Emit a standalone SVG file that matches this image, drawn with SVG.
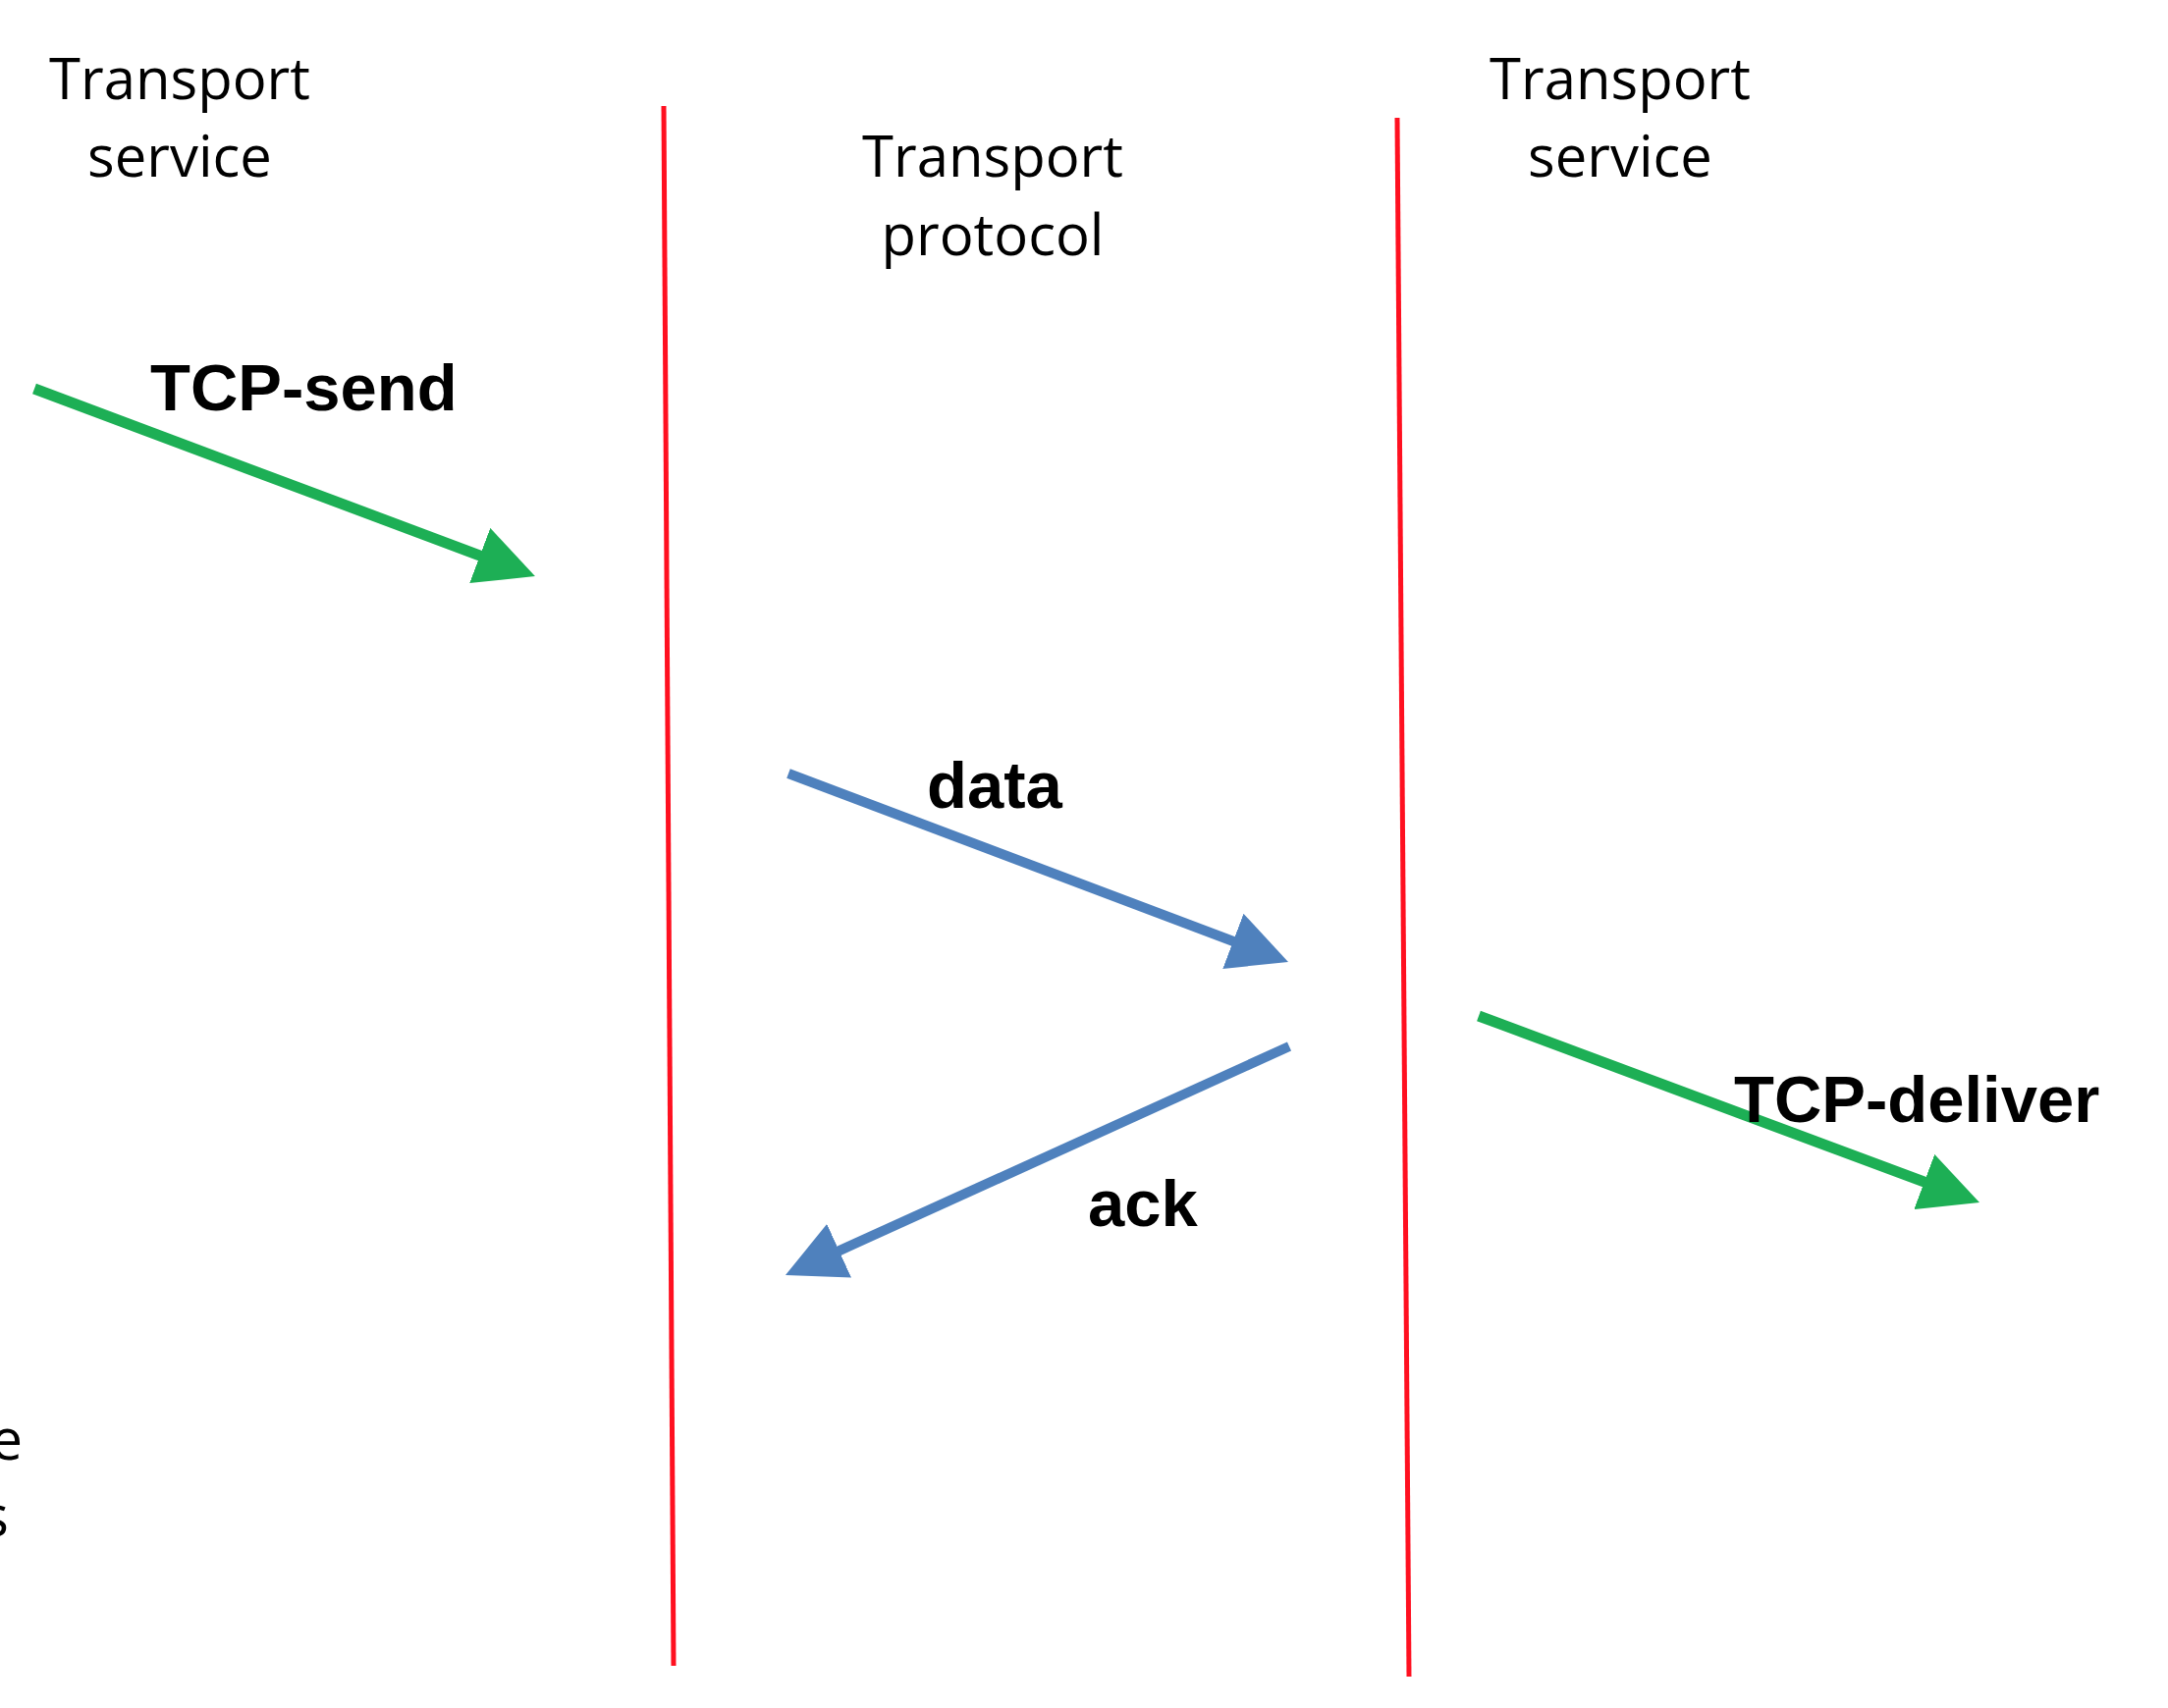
<svg xmlns="http://www.w3.org/2000/svg" width="2208" height="1740" viewBox="0 0 2208 1740">
<style>
.lbl{font-family:"Open Sans","Noto Sans",sans-serif;font-size:58px;fill:#000;text-anchor:middle}
.edge{font-family:"Open Sans","Noto Sans",sans-serif;font-size:58px;fill:#000;text-anchor:end}
.bold{font-family:"Liberation Sans",Arial,sans-serif;font-size:67px;font-weight:bold;fill:#000}
.red{stroke:#FF1020;stroke-width:5;fill:none}
.green{stroke:#1DAF55;stroke-width:11;fill:none}
.blue{stroke:#4F81BD;stroke-width:10;fill:none}
</style>
<defs>
<marker id="ahG" markerUnits="userSpaceOnUse" markerWidth="60" markerHeight="60" viewBox="0 0 60 60" refX="1" refY="30" orient="auto">
<path d="M0,0 L60,30 L0,60 z" fill="#1DAF55"/>
</marker>
<marker id="ahB" markerUnits="userSpaceOnUse" markerWidth="60" markerHeight="60" viewBox="0 0 60 60" refX="1" refY="30" orient="auto">
<path d="M0,0 L60,30 L0,60 z" fill="#4F81BD"/>
</marker>
</defs>
<rect width="2208" height="1740" fill="#fff"/>
<g id="headers">
<g id="left-service"><text class="lbl" x="183" y="101">Transport</text><text class="lbl" x="183" y="180">service</text></g>
<g id="protocol"><text class="lbl" x="1011" y="180">Transport</text><text class="lbl" x="1011" y="260">protocol</text></g>
<g id="right-service"><text class="lbl" x="1650" y="101">Transport</text><text class="lbl" x="1650" y="180">service</text></g>
<g id="edge-text"><text class="edge" x="23" y="1487">e</text><text class="edge" x="9" y="1565">s</text></g>
</g>
<g id="boundaries">
<line class="red" x1="676" y1="108" x2="686" y2="1697"/>
<line class="red" x1="1423" y1="120" x2="1435" y2="1708"/>
</g>
<g id="connectors">
<line class="green" x1="35" y1="396" x2="489.7" y2="566.3" marker-end="url(#ahG)"/>
<line class="blue" x1="803" y1="788" x2="1256.8" y2="959.2" marker-end="url(#ahB)"/>
<line class="blue" x1="1313" y1="1066" x2="853.7" y2="1274.6" marker-end="url(#ahB)"/>
<line class="green" x1="1506" y1="1035" x2="1960.7" y2="1204.4" marker-end="url(#ahG)"/>
</g>
<g id="labels">
<text class="bold" x="153" y="418">TCP-send</text>
<text class="bold" x="944" y="823">data</text>
<text class="bold" x="1108" y="1249">ack</text>
<text class="bold" x="1766" y="1143">TCP-deliver</text>
</g>
</svg>
